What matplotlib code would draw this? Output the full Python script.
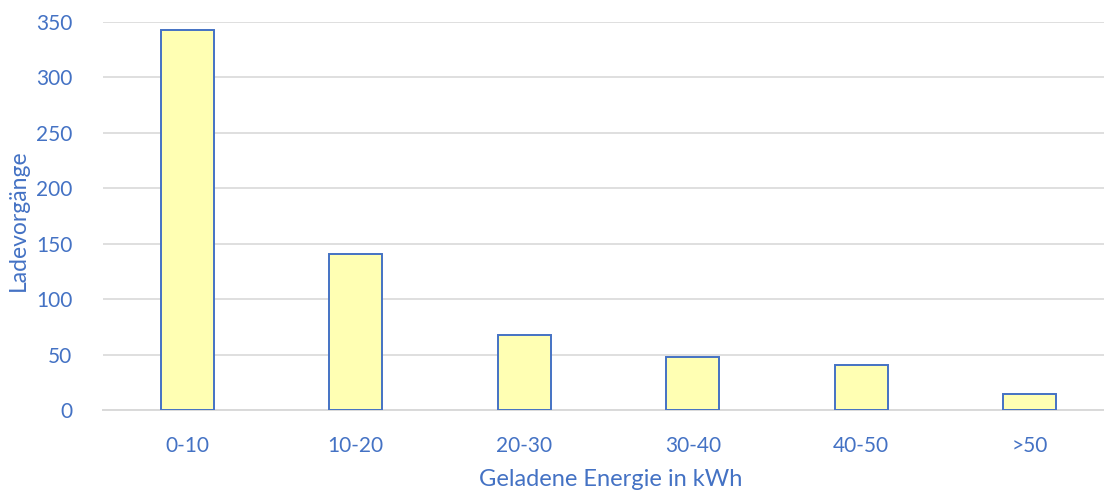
import matplotlib
matplotlib.use("Agg")
import matplotlib.pyplot as plt
import numpy as np

categories = ["0-10", "10-20", "20-30", "30-40", "40-50", ">50"]
counts = [343, 141, 68, 48, 41, 14]
yticks = [0, 50, 100, 150, 200, 250, 300, 350]

blue = "#4472C4"
plt.rcParams["font.family"] = ["Lato", "DejaVu Sans"]

fig = plt.figure(figsize=(11.04, 4.92), dpi=100)
ax = fig.add_axes([103 / 1104, 82 / 492, 1011 / 1104, 388 / 492])

x = np.arange(len(categories))
ax.bar(x, counts, width=0.315, color="#FFFFB3", edgecolor=blue, linewidth=1.4, zorder=3)

ax.set_xlim(-0.5, len(categories) - 0.5)
ax.set_ylim(0, 350)
ax.set_yticks(yticks)
ax.set_xticks(x)
ax.set_xticklabels(categories)

ax.yaxis.grid(True, color="#D9D9D9", linewidth=1.2, zorder=0)
ax.set_axisbelow(True)
for s in ["top", "right", "left"]:
    ax.spines[s].set_visible(False)
ax.spines["bottom"].set_color("#D9D9D9")
ax.spines["bottom"].set_linewidth(1.4)

ax.tick_params(axis="both", length=0, labelsize=15, labelcolor=blue)
ax.tick_params(axis="x", pad=19)
ax.tick_params(axis="y", pad=22)

ax.set_ylabel("Ladevorgänge", color=blue, fontsize=16.5)
ax.yaxis.set_label_coords(-0.073, 0.49)
ax.set_xlabel("Geladene Energie in kWh", color=blue, fontsize=17)
ax.xaxis.set_label_coords(0.502, -0.152)

fig.savefig("out.png", dpi=100)
